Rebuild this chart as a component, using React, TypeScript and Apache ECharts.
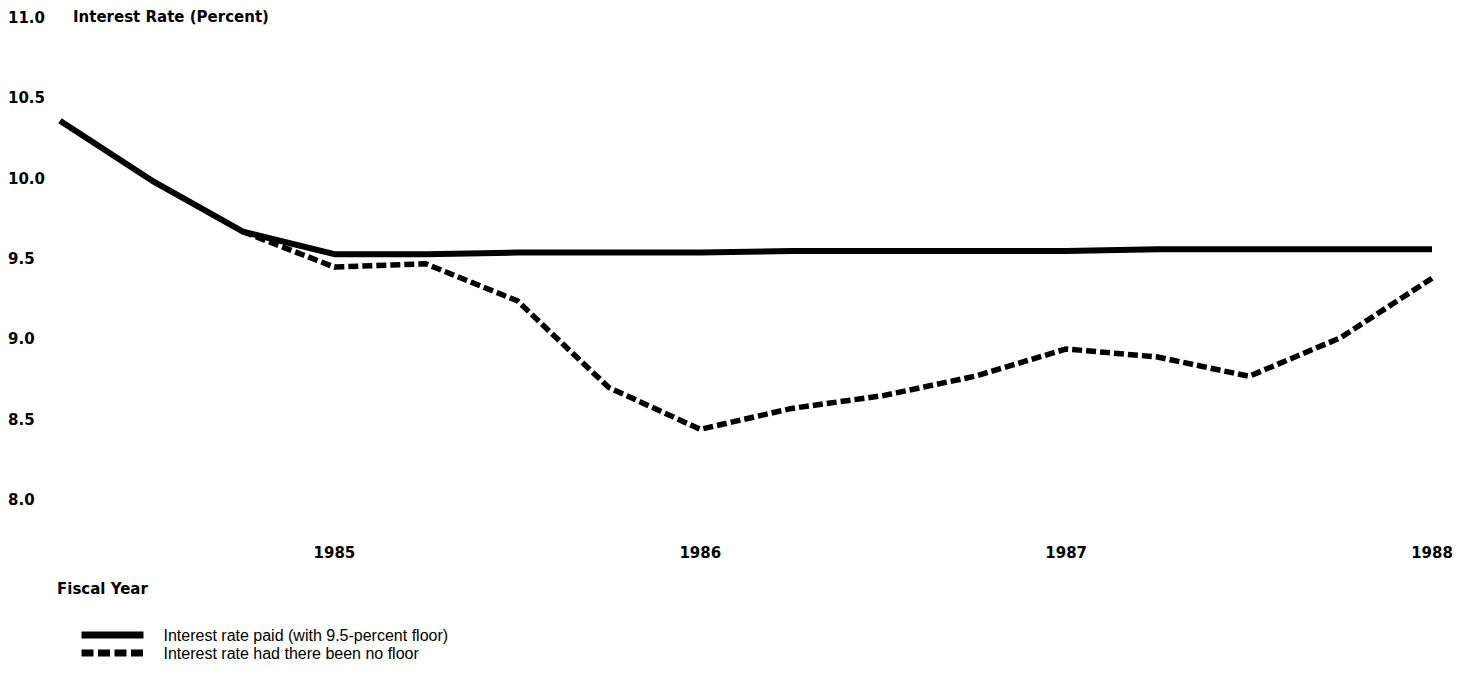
import React, { useEffect, useRef } from "react";
import * as echarts from "echarts";

// Fiscal-year quarters (x positions) from FY1984 Q3 to FY1988 Q2
const quarters = [
  1984.25, 1984.5, 1984.75, 1985, 1985.25, 1985.5, 1985.75, 1986,
  1986.25, 1986.5, 1986.75, 1987, 1987.25, 1987.5, 1987.75, 1988,
];
const yearTicks = [1985, 1986, 1987, 1988];
const yTicks = [8.0, 8.5, 9.0, 9.5, 10.0, 10.5, 11.0];

const ratePaid = [
  10.36, 9.99, 9.67, 9.53, 9.53, 9.54, 9.54, 9.54,
  9.55, 9.55, 9.55, 9.55, 9.56, 9.56, 9.56, 9.56,
];
const rateNoFloor: (number | null)[] = [
  null, null, 9.67, 9.45, 9.47, 9.24, 8.7, 8.44,
  8.57, 8.65, 8.77, 8.94, 8.89, 8.77, 9.01, 9.38,
];

const seriesNames = [
  "Interest rate paid (with 9.5-percent floor)",
  "Interest rate had there been no floor",
];

const BOLD = "DejaVu Sans";
const REG = "Liberation Sans";

export default function App() {
  const ref = useRef<HTMLDivElement>(null);
  useEffect(() => {
    if (!ref.current) return;
    const chart = echarts.init(ref.current, undefined, { renderer: "svg" });
    chart.setOption({
      animation: false,
      backgroundColor: "#ffffff",
      grid: { left: 60, right: 36, top: 18, bottom: 173, containLabel: false },
      xAxis: {
        type: "value",
        min: quarters[0],
        max: quarters[quarters.length - 1],
        interval: 0.25,
        axisLine: { show: false },
        axisTick: { show: false },
        splitLine: { show: false },
        axisLabel: {
          margin: 45,
          fontFamily: BOLD,
          fontWeight: "bold",
          fontSize: 15,
          color: "#000",
          verticalAlign: "top",
          formatter: (v: number) => (yearTicks.includes(Math.round(v * 100) / 100) ? String(v) : ""),
        },
      },
      yAxis: {
        type: "value",
        min: yTicks[0],
        max: yTicks[yTicks.length - 1],
        interval: 0.5,
        axisLine: { show: false },
        axisTick: { show: false },
        splitLine: { show: false },
        axisLabel: {
          align: "left",
          margin: 52,
          fontFamily: BOLD,
          fontWeight: "bold",
          fontSize: 15,
          color: "#000",
          formatter: (v: number) => v.toFixed(1),
        },
      },
      legend: {
        orient: "vertical",
        left: 78,
        top: 627,
        height: 46,
        padding: 0,
        itemWidth: 62,
        itemHeight: 14,
        itemGap: 2,
        itemStyle: { color: "rgba(0,0,0,0)", borderColor: "rgba(0,0,0,0)", borderWidth: 0 },
        textStyle: {
          fontFamily: REG,
          fontSize: 16,
          lineHeight: 14,
          color: "#000",
          padding: [0, 0, 0, 15],
        },
        data: [
          { name: seriesNames[0], lineStyle: { color: "#000", width: 7, type: "solid", cap: "butt" } },
          { name: seriesNames[1], lineStyle: { color: "#000", width: 7, type: [12, 4.5], cap: "butt" } },
        ],
      },
      graphic: [
        {
          type: "text",
          left: 73,
          top: 9,
          style: {
            text: "Interest Rate (Percent)",
            font: `bold 15px "${BOLD}"`,
            fill: "#000",
          },
        },
        {
          type: "text",
          left: 57,
          top: 581,
          style: {
            text: "Fiscal Year",
            font: `bold 15px "${BOLD}"`,
            fill: "#000",
          },
        },
      ],
      series: [
        {
          name: seriesNames[0],
          type: "line",
          symbol: "none",
          data: quarters.map((q, i) => [q, ratePaid[i]]),
          lineStyle: { color: "#000", width: 6, type: "solid", join: "round" },
          itemStyle: { color: "#000" },
          z: 3,
        },
        {
          name: seriesNames[1],
          type: "line",
          symbol: "none",
          data: quarters.map((q, i) => [q, rateNoFloor[i]]),
          lineStyle: { color: "#000", width: 5.5, type: [10, 4], join: "round" },
          itemStyle: { color: "#000" },
          z: 2,
        },
      ],
    });
    return () => chart.dispose();
  }, []);
  return <div ref={ref} style={{ width: 1468, height: 673, position: "absolute", left: 0, top: 0 }} />;
}
